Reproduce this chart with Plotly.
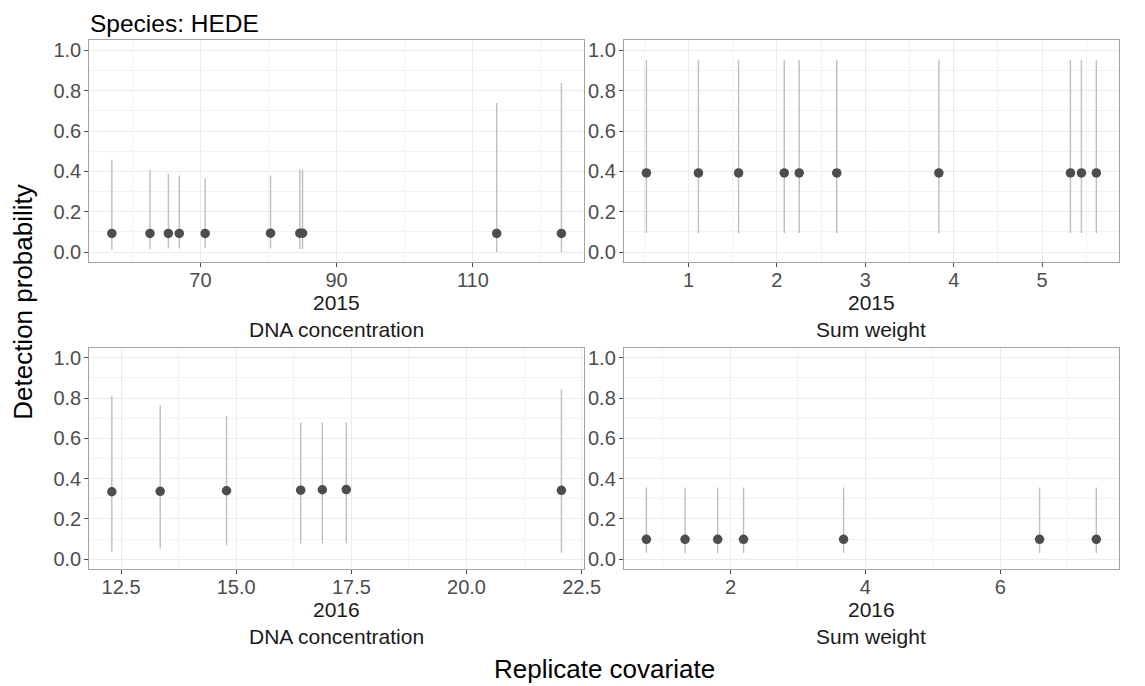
import plotly.graph_objects as go

# ---------------- data ----------------
dna15_x = [57.0, 62.6, 65.3, 66.9, 70.7, 80.3, 84.6, 85.0, 113.5, 123.0]
dna15_y = [0.093, 0.093, 0.093, 0.093, 0.093, 0.094, 0.094, 0.094, 0.093, 0.093]
dna15_lo = [0.012, 0.015, 0.018, 0.018, 0.021, 0.018, 0.015, 0.015, 0.001, 0.001]
dna15_hi = [0.459, 0.410, 0.388, 0.380, 0.367, 0.380, 0.410, 0.410, 0.740, 0.839]

sw15_x = [0.523, 1.112, 1.566, 2.083, 2.252, 2.677, 3.832, 5.321, 5.445, 5.614]
sw15_y = [0.393] * 10
sw15_lo = [0.095] * 10
sw15_hi = [0.951] * 10

dna16_x = [12.30, 13.35, 14.79, 16.40, 16.87, 17.39, 22.06]
dna16_y = [0.335, 0.337, 0.340, 0.343, 0.345, 0.346, 0.342]
dna16_lo = [0.039, 0.053, 0.069, 0.079, 0.079, 0.079, 0.033]
dna16_hi = [0.810, 0.765, 0.711, 0.677, 0.677, 0.677, 0.842]

sw16_x = [0.754, 1.327, 1.811, 2.194, 3.677, 6.583, 7.424]
sw16_y = [0.099] * 7
sw16_lo = [0.031] * 7
sw16_hi = [0.356] * 7

years = ["2015", "2015", "2016", "2016"]
covariates = ["DNA concentration", "Sum weight", "DNA concentration", "Sum weight"]
y_ticks = [0.0, 0.2, 0.4, 0.6, 0.8, 1.0]

panels = [
    (dna15_x, dna15_y, dna15_lo, dna15_hi, dict(tick0=70, dtick=20, minor=10, fmt="d")),
    (sw15_x, sw15_y, sw15_lo, sw15_hi, dict(tick0=0, dtick=1, minor=0.5, fmt="d")),
    (dna16_x, dna16_y, dna16_lo, dna16_hi, dict(tick0=0, dtick=2.5, minor=1.25, fmt=".1f")),
    (sw16_x, sw16_y, sw16_lo, sw16_hi, dict(tick0=0, dtick=2, minor=1, fmt="d")),
]

# ---------------- layout geometry (pixels) ----------------
W, H = 1145, 686
col_px = [(90.7, 592.7), (633.3, 1135.7)]
row_px = [(39.5, 262.0), (347.7, 570.0)]

FONT = "Liberation Sans, Arial, Helvetica, sans-serif"
GRID = "#EBEBEB"
MINOR = "#F3F3F3"
BORDER = "#A3A3A3"
TICKC = "#4D4D4D"

fig = go.Figure()
layout = dict(
    width=W, height=H,
    margin=dict(l=0, r=0, t=0, b=0),
    paper_bgcolor="white", plot_bgcolor="white",
    showlegend=False,
    font=dict(family=FONT),
)
annotations = []

for i, (xs, ys, lo, hi, ax) in enumerate(panels):
    r, c = divmod(i, 2)
    n = i + 1
    xa = "x" if n == 1 else f"x{n}"
    ya = "y" if n == 1 else f"y{n}"
    fig.add_trace(go.Scatter(
        x=xs, y=ys, mode="markers", xaxis=xa, yaxis=ya,
        marker=dict(size=9.5, color="#4D4D4D"),
        error_y=dict(type="data", symmetric=False,
                     array=[h - y for h, y in zip(hi, ys)],
                     arrayminus=[y - l for y, l in zip(ys, lo)],
                     color="#BEBEBE", thickness=1.4, width=0),
        cliponaxis=False,
    ))
    x0p, x1p = col_px[c]
    y0p, y1p = row_px[r]
    span = max(xs) - min(xs)
    xr = [min(xs) - 0.05 * span, max(xs) + 0.05 * span]
    xkey = "xaxis" if n == 1 else f"xaxis{n}"
    ykey = "yaxis" if n == 1 else f"yaxis{n}"
    layout[xkey] = dict(
        domain=[x0p / W, x1p / W], anchor=ya, range=xr,
        tick0=ax["tick0"], dtick=ax["dtick"], tickformat=ax["fmt"],
        ticks="outside", ticklen=4, tickwidth=1, tickcolor=TICKC,
        ticklabelstandoff=-4,
        tickfont=dict(size=20, color=TICKC, family=FONT),
        showgrid=True, gridcolor=GRID, gridwidth=1,
        minor=dict(dtick=ax["minor"], showgrid=True, gridcolor=MINOR, gridwidth=0.7, ticklen=0),
        showline=True, linecolor=BORDER, linewidth=1.2, mirror=True,
        zeroline=False, fixedrange=True,
    )
    layout[ykey] = dict(
        domain=[1 - y1p / H, 1 - y0p / H], anchor=xa, range=[-0.05, 1.05],
        tickvals=y_ticks, tickformat=".1f",
        ticks="outside", ticklen=4, tickwidth=1, tickcolor=TICKC,
        ticklabelstandoff=-1,
        tickfont=dict(size=20, color=TICKC, family=FONT),
        showgrid=True, gridcolor=GRID, gridwidth=1,
        minor=dict(dtick=0.1, showgrid=True, gridcolor=MINOR, gridwidth=0.7, ticklen=0),
        showline=True, linecolor=BORDER, linewidth=1.2, mirror=True,
        zeroline=False, fixedrange=True,
    )
    xc = (x0p + x1p) / 2 / W
    base = y1p
    annotations.append(dict(text=years[i], x=xc, y=1 - (base + 40.5) / H, xref="paper", yref="paper",
                            showarrow=False, xanchor="center", yanchor="middle",
                            font=dict(size=21, color="#1A1A1A", family=FONT)))
    annotations.append(dict(text=covariates[i], x=xc, y=1 - (base + 67.5) / H, xref="paper", yref="paper",
                            showarrow=False, xanchor="center", yanchor="middle",
                            font=dict(size=21, color="#1A1A1A", family=FONT)))

annotations.append(dict(text="Species: HEDE", x=89.5 / W, y=1 - 22.5 / H, xref="paper", yref="paper",
                        showarrow=False, xanchor="left", yanchor="middle",
                        font=dict(size=24.5, color="black", family=FONT)))
annotations.append(dict(text="Replicate covariate", x=613.2 / W, y=1 - 670 / H, xref="paper", yref="paper",
                        showarrow=False, xanchor="center", yanchor="middle",
                        font=dict(size=26, color="black", family=FONT)))
annotations.append(dict(text="Detection probability", x=23 / W, y=1 - 302 / H, xref="paper", yref="paper",
                        showarrow=False, xanchor="center", yanchor="middle", textangle=-90,
                        font=dict(size=26, color="black", family=FONT)))

layout["annotations"] = annotations
fig.update_layout(**layout)
fig.write_html("out.html", config={"displayModeBar": False})
